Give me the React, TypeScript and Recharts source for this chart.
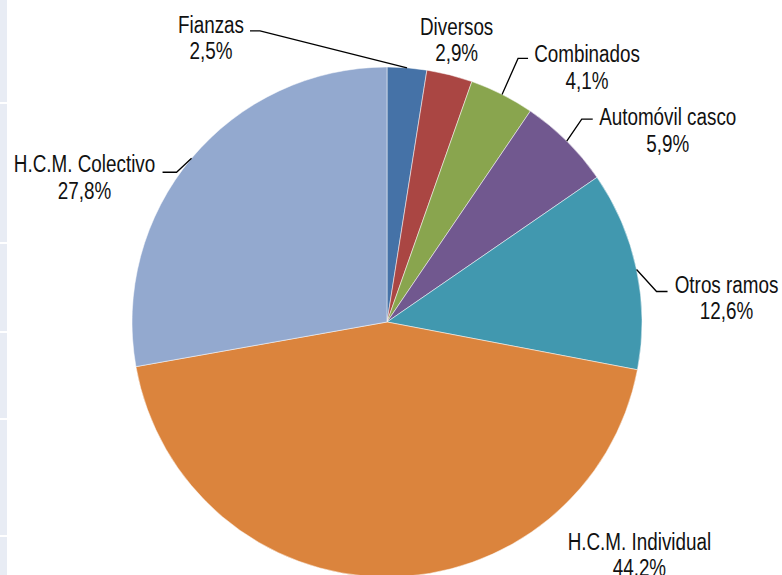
import { PieChart, Pie, Cell } from 'recharts'

// Distribución de primas por ramo
const categories = ['Fianzas', 'Diversos', 'Combinados', 'Automóvil casco', 'Otros ramos', 'H.C.M. Individual', 'H.C.M. Colectivo']
const shares = [2.5, 2.9, 4.1, 5.9, 12.6, 44.2, 27.8]
const shareLabels = ['2,5%', '2,9%', '4,1%', '5,9%', '12,6%', '44.2%', '27,8%']

const colors = ['#4572A7', '#AA4643', '#89A54E', '#71588F', '#4198AF', '#DB843D', '#93A9CF']

// label placement, relative to the point where the slice's mid angle meets the rim
const labelOffsets = [
  { dx: -196, dy: -35, line: [[-147, -37], [-157, -37]] },
  { dx: 7, dy: -40, line: null },
  { dx: 85, dy: -32, line: [[16, -36], [26, -36]] },
  { dx: 101, dy: -16, line: [[15, -22], [26, -22]] },
  { dx: 90, dy: 23, line: [[20, 22], [31, 22]] },
  { dx: 254, dy: -27, line: null },
  { dx: -107, dy: 14, line: [[-15, 14], [-29, 14]] },
]

// the grey strip on the left edge of the original page
const stripBreaks = [104, 244, 333, 420, 537]

const data = categories.map((name, i) => ({ name, value: shares[i], label: shareLabels[i] }))

const CX = 387
const CY = 322
const R = 255
const RAD = Math.PI / 180
const FONT = "'Liberation Sans', Arial, sans-serif"

const renderLabel = (props: any) => {
  const { midAngle, index } = props
  const cx = props.cx ?? CX
  const cy = props.cy ?? CY
  const r = props.outerRadius ?? R
  const ex = cx + r * Math.cos(-midAngle * RAD)
  const ey = cy + r * Math.sin(-midAngle * RAD)
  const o = labelOffsets[index]
  const tx = ex + o.dx
  const ty = ey + o.dy
  return (
    <g key={`lbl-${index}`}>
      {o.line && (
        <polyline
          points={`${ex},${ey} ${ex + o.line[0][0]},${ey + o.line[0][1]} ${ex + o.line[1][0]},${ey + o.line[1][1]}`}
          fill="none"
          stroke="#000"
          strokeWidth={1.3}
        />
      )}
      {/* condensed face: Arial metrics squeezed horizontally */}
      <text transform={`translate(${tx},${ty}) scale(0.82,1)`} x={0} y={0} textAnchor="middle" fill="#111" fontSize={23} fontFamily={FONT}>
        <tspan x={0}>{data[index].name}</tspan>
        <tspan x={0} dy={26.5}>{data[index].label}</tspan>
      </text>
    </g>
  )
}

export default function App() {
  let prev = 0
  const segments = [...stripBreaks, 577].map((b) => {
    const seg = { top: prev, height: b - prev - 2 }
    prev = b
    return seg
  })

  return (
    <div style={{ position: 'absolute', left: 0, top: 0, width: 782, height: 575, background: '#fff', overflow: 'hidden' }}>
      {segments.map((s, i) => (
        <div key={i} style={{ position: 'absolute', left: 0, top: s.top, width: 7, height: s.height, background: '#E8ECF4' }} />
      ))}
      <PieChart width={782} height={575} margin={{ top: 0, right: 0, bottom: 0, left: 0 }} style={{ position: 'absolute', left: 0, top: 0 }}>
        <Pie
          data={data}
          dataKey="value"
          cx={CX}
          cy={CY}
          outerRadius={R}
          startAngle={90}
          endAngle={-270}
          stroke="#fff"
          strokeWidth={0.5}
          label={renderLabel}
          labelLine={false}
          isAnimationActive={false}
        >
          {data.map((d, i) => (
            <Cell key={d.name} fill={colors[i]} />
          ))}
        </Pie>
      </PieChart>
    </div>
  )
}
